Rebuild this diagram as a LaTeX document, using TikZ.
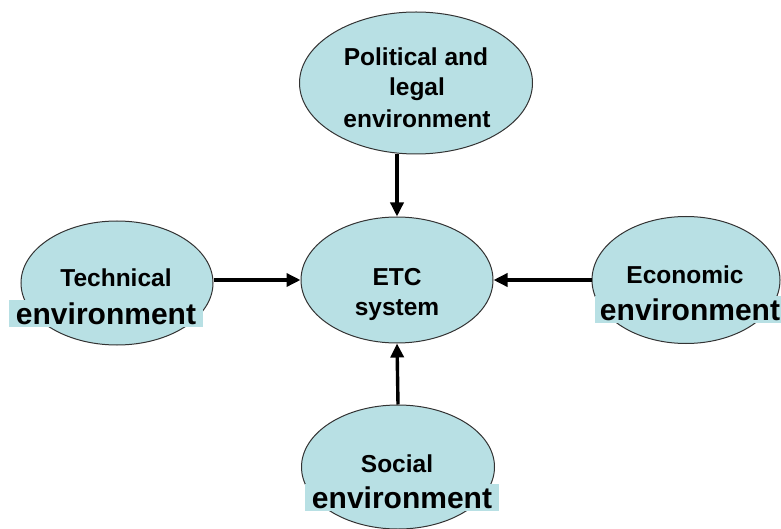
\documentclass[tikz,border=0pt]{standalone}
\usepackage{fontspec}
\setmainfont{Liberation Sans}
\usetikzlibrary{arrows.meta,shapes.geometric}
\definecolor{envblue}{RGB}{184,224,228}
\tikzset{>/.tip={Triangle[length=14pt,width=13pt]}}
\tikzset{
  env/.style={ellipse, draw=black!80, line width=1pt, fill=envblue, inner sep=0pt},
  txt/.style={anchor=base, inner sep=0pt, font=\fontsize{24.5}{29}\selectfont\bfseries},
  bigtxt/.style={anchor=base, fill=envblue, inner xsep=7pt, inner ysep=2.5pt,
    font=\fontsize{30}{35}\selectfont\bfseries},
  link/.style={->, line width=3.4pt}
}

\begin{document}
\begin{tikzpicture}[x=1pt,y=-1pt]
\useasboundingbox (0,0) rectangle (781,529);
% the five environments
\node[env, minimum width=233pt, minimum height=142pt] (pol)  at (416,83)  {};
\node[env, minimum width=192pt, minimum height=126pt] (etc)  at (397,280) {};
\node[env, minimum width=192pt, minimum height=124pt] (tech) at (117,283) {};
\node[env, minimum width=188pt, minimum height=127pt] (eco)  at (686,280) {};
\node[env, minimum width=193pt, minimum height=124pt] (soc)  at (398,467) {};

% labels
\node[txt] (pol1) at (416,66)  {Political and};
\node[txt] (pol2) at (417,96)  {legal};
\node[txt] (pol3) at (417,128) {environment};
\node[txt] (etc1) at (397,285) {ETC};
\node[txt] (etc2) at (397,315) {system};
\node[txt] (tech1) at (116,286) {Technical};
\node[bigtxt] (tech2) at (106,324) {environment};
\node[txt] (eco1) at (685,283) {Economic};
\node[bigtxt, inner xsep=5pt] (eco2) at (690,320) {environment};
\node[txt] (soc1) at (397,472) {Social};
\node[bigtxt] (soc2) at (402,508) {environment};

% influences on the system
\draw[link] (etc |- pol.south) -- (etc.north);
\draw[link] (tech.east |- etc) -- (etc.west);
\draw[link] (eco.west |- etc) -- (etc.east);
\draw[link] (soc.north) -- (etc.south);
\end{tikzpicture}
\end{document}
